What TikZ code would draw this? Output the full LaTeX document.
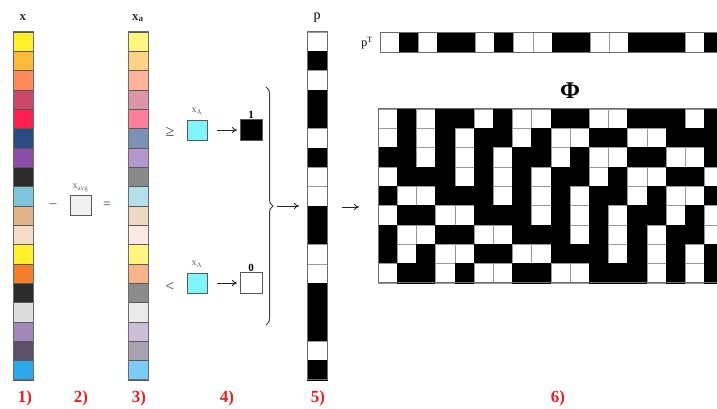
\documentclass[tikz,border=0pt]{standalone}
\usepackage{fontspec}
\setmainfont{Liberation Serif}
\usetikzlibrary{decorations.pathreplacing,arrows.meta}

% colours of the input vector x
\definecolor{xc1}{HTML}{FFF02A}
\definecolor{xc2}{HTML}{FDB93A}
\definecolor{xc3}{HTML}{FF8A5C}
\definecolor{xc4}{HTML}{C84A68}
\definecolor{xc5}{HTML}{FF1F4E}
\definecolor{xc6}{HTML}{2A4C80}
\definecolor{xc7}{HTML}{8B4DAA}
\definecolor{xc8}{HTML}{2C2C2C}
\definecolor{xc9}{HTML}{7EC5DC}
\definecolor{xc10}{HTML}{E0B48A}
\definecolor{xc11}{HTML}{F6DCC8}
\definecolor{xc12}{HTML}{FFF02A}
\definecolor{xc13}{HTML}{F57F2A}
\definecolor{xc14}{HTML}{2C2C2C}
\definecolor{xc15}{HTML}{DCDCDC}
\definecolor{xc16}{HTML}{A288B8}
\definecolor{xc17}{HTML}{5A5068}
\definecolor{xc18}{HTML}{2BA9EC}
% colours of the centred vector x_a
\definecolor{ac1}{HTML}{FFF57F}
\definecolor{ac2}{HTML}{FDD38A}
\definecolor{ac3}{HTML}{FFB49A}
\definecolor{ac4}{HTML}{DC95A6}
\definecolor{ac5}{HTML}{FF7E99}
\definecolor{ac6}{HTML}{7B92B5}
\definecolor{ac7}{HTML}{B597CC}
\definecolor{ac8}{HTML}{8A8A8A}
\definecolor{ac9}{HTML}{B3E0EA}
\definecolor{ac10}{HTML}{EDD8C2}
\definecolor{ac11}{HTML}{F8EAE0}
\definecolor{ac12}{HTML}{FFF57F}
\definecolor{ac13}{HTML}{F8B38A}
\definecolor{ac14}{HTML}{8C8C8C}
\definecolor{ac15}{HTML}{EAEAEA}
\definecolor{ac16}{HTML}{CDBEDA}
\definecolor{ac17}{HTML}{A8A2B0}
\definecolor{ac18}{HTML}{7BCDF5}
% binary cell colours: fill and border
\definecolor{pc0}{gray}{1}
\definecolor{pc1}{gray}{0}
\definecolor{dc0}{gray}{0.6}
\definecolor{dc1}{gray}{0}
\definecolor{cyanfill}{HTML}{7FF4FA}
\definecolor{numred}{HTML}{E8211E}

\begin{document}
\begin{tikzpicture}[x=1pt,y=-1pt,
  cell/.style={draw=black!65,line width=0.5pt,minimum width=20pt,
    minimum height=19.333pt,inner sep=0pt,outer sep=0pt},
  pcell/.style={line width=0.6pt,minimum width=20pt,
    minimum height=19.333pt,inner sep=0pt,outer sep=0pt},
  frame/.style={draw=gray!85!black,line width=1pt},
  lbl/.style={inner sep=0pt,font=\fontsize{13}{13}\selectfont\bfseries,text=black!80},
  smalllbl/.style={inner sep=0pt,font=\fontsize{10}{10}\selectfont,text=gray!80!black},
  sym/.style={inner sep=0pt,font=\fontsize{16}{16}\selectfont,text=black!75},
  sqbox/.style={draw=gray!70!black,line width=0.8pt,minimum width=20pt,
    minimum height=20pt,inner sep=0pt,outer sep=0pt},
  bitlbl/.style={inner sep=0.8pt,font=\fontsize{11}{11}\selectfont\bfseries},
  num/.style={inner sep=0pt,text=numred,font=\fontsize{17}{17}\selectfont\bfseries},
  arr/.style={-{To[length=5pt,width=6pt]},line width=0.9pt,draw=black!85},
  ]
\useasboundingbox (0,0) rectangle (717,409);

% ---- input vector x ----
\foreach \i in {1,...,18}
  \node[cell,fill=xc\i] (x\i) at (23,{32+(\i-0.5)*19.333}) {};
\draw[frame] (x1.north west) rectangle (x18.south east);
\node[lbl] (xlab) at (23,18) {x};

% ---- subtraction of the mean ----
\node[sym,font=\fontsize{14}{14}\selectfont] (minus) at (53,206) {–};
\node[sqbox,fill=gray!12,minimum width=21pt] (avg) at (80.5,205.5) {};
\node[smalllbl] (avglab) at (80.5,188) {x\textsubscript{avg}};
\node[sym,font=\fontsize{14}{14}\selectfont] (eq) at (107,205) {=};

% ---- centred vector x_a ----
\foreach \i in {1,...,18}
  \node[cell,fill=ac\i] (a\i) at (138,{32+(\i-0.5)*19.333}) {};
\draw[frame] (a1.north west) rectangle (a18.south east);
\node[lbl] (alab) at (138,18) {x\textsubscript{a}};

% ---- thresholding ----
\node[sym] (ge) at (170,132) {≥};
\node[sqbox,fill=cyanfill] (xA1) at (197,130) {};
\node[smalllbl] (xA1lab) at (197,111) {x\textsubscript{A}};
\node[sqbox,fill=black,minimum width=22pt,minimum height=21pt] (one) at (251,130) {};
\node[bitlbl,anchor=south] (onelab) at (one.north) {1};
\draw[arr,shorten <=10pt,shorten >=3pt] (xA1) -- (one);

\node[sym] (lt) at (170,287) {<};
\node[sqbox,fill=cyanfill] (xA2) at (197,283) {};
\node[smalllbl] (xA2lab) at (197,264) {x\textsubscript{A}};
\node[sqbox,fill=white,minimum width=22pt,minimum height=21pt] (zero) at (251,283) {};
\node[bitlbl,anchor=south] (zerolab) at (zero.north) {0};
\draw[arr,shorten <=10pt,shorten >=3pt] (xA2) -- (zero);

\coordinate (bt) at (266,87);
\coordinate (bb) at (266,325);
\draw[decorate,decoration={brace,amplitude=7pt},line width=1pt,draw=black!75] (bt) -- (bb);
\coordinate (btip) at (277,206);
\coordinate (pin) at (299,206);
\draw[arr] (btip) -- (pin);

% ---- binary vector p ----
\foreach \v [count=\i] in {0,1,0,1,1,0,1,0,0,1,1,0,0,1,1,1,0,1}
  \node[pcell,fill=pc\v,draw=dc\v] (p\i) at (317,{32+(\i-0.5)*19.333}) {};
\draw[frame] (p1.north west) rectangle (p18.south east);
\node[inner sep=0pt,font=\fontsize{14}{14}\selectfont] (plab) at (317,18) {p};

\coordinate (pout) at (342,207);
\coordinate (phin) at (359,207);
\draw[arr] (pout) -- (phin);

% ---- transposed p and the matrix Phi ----
\node[inner sep=0pt,font=\fontsize{12}{12}\selectfont] (ptlab) at (367,43) {p\textsuperscript{T}};
\node[inner sep=0pt,font=\fontsize{24}{24}\selectfont\bfseries] (philab) at (570,91) {Φ};

\begin{scope}
\clip (0,0) rectangle (717,409);
\foreach \v [count=\i] in {0,1,0,1,1,0,1,0,0,1,1,0,0,1,1,1,0,1}
  \node[pcell,fill=pc\v,draw=dc\v,minimum width=19.1pt,minimum height=19.5pt] (q\i) at ({380+(\i-0.5)*19.1},42.5) {};
\draw[frame] (q1.north west) rectangle (q18.south east);

\foreach \row [count=\r] in {
  {0,1,0,1,1,0,1,0,0,1,1,0,0,1,1,1,0,1},
  {0,1,0,1,0,1,1,0,1,0,0,1,1,0,0,1,1,1},
  {1,1,0,1,0,1,0,1,1,0,1,0,0,1,1,0,0,1},
  {0,1,1,1,0,1,0,1,0,1,1,0,1,0,0,1,1,0},
  {1,0,0,1,1,1,0,1,0,1,0,1,1,0,1,0,0,1},
  {0,1,1,0,0,1,1,1,0,1,0,1,0,1,1,0,1,0},
  {1,0,0,1,1,0,0,1,1,1,0,1,0,1,0,1,1,0},
  {1,0,1,0,0,1,1,0,0,1,1,1,0,1,0,1,0,1},
  {0,1,1,0,1,0,0,1,1,0,0,1,1,1,0,1,0,1}}
  \foreach \v [count=\c] in \row
    \filldraw[fill=pc\v,draw=dc\v,line width=0.6pt]
      ({378+(\c-1)*19.2},{109+(\r-1)*19.333}) rectangle ++(19.2,19.333);
\draw[frame] (378,109) rectangle ({378+18*19.2},{109+9*19.333});
\end{scope}

% ---- step numbers ----
\node[num] (n1) at (25,398) {1)};
\node[num] (n2) at (81,398) {2)};
\node[num] (n3) at (139,398) {3)};
\node[num] (n4) at (227,398) {4)};
\node[num] (n5) at (318,398) {5)};
\node[num] (n6) at (558,398) {6)};
\end{tikzpicture}
\end{document}
